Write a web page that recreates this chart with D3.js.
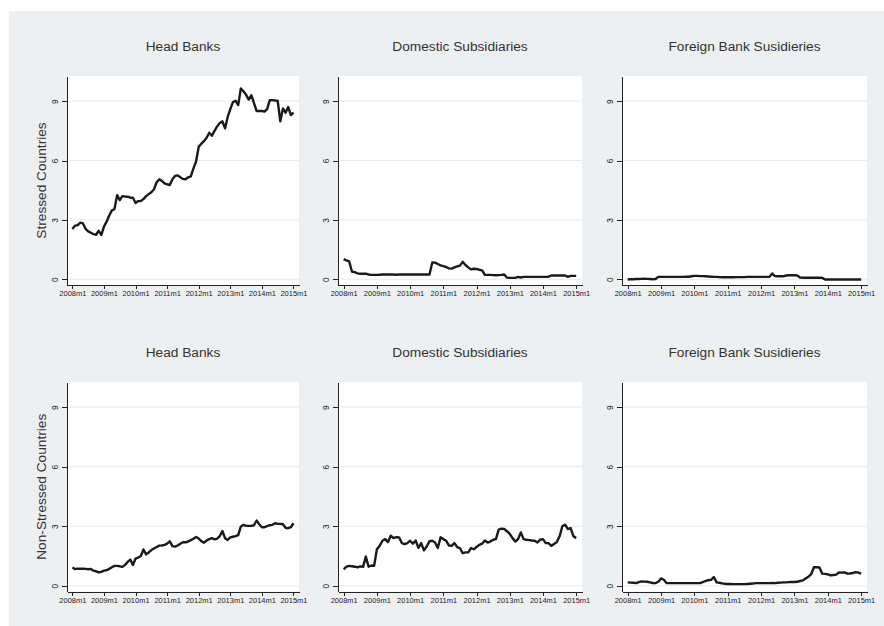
<!DOCTYPE html>
<html>
<head>
<meta charset="utf-8">
<script src="https://cdn.jsdelivr.net/npm/d3@7"></script>
<style>
  body { margin: 0; background: #fff; }
  svg { display: block; font-family: "Liberation Sans", Arial, sans-serif; }
  .grid line { stroke: #e9e9e9; stroke-width: 1; }
  .axis path, .axis line { stroke: #222; stroke-width: 1; shape-rendering: crispEdges; }
  .axis text { fill: #222; font-size: 7.5px; }
  .yaxis text { font-size: 8.3px; }
  .series { fill: none; stroke: #1a1a1a; stroke-width: 2.4; stroke-linejoin: round; }
  .title { fill: #333; font-size: 13.7px; text-anchor: middle; }
</style>
</head>
<body>
<svg id="chart" width="884" height="626"></svg>
<script>
// panel and row labels
const colTitles = ["Head Banks", "Domestic Subsidiaries", "Foreign Bank Susidieries"];
const rowTitles = ["Stressed Countries", "Non-Stressed Countries"];

// x ticks, one per year (monthly data from 2008m1 to 2015m1)
const xTickLabels = ["2008m1", "2009m1", "2010m1", "2011m1", "2012m1", "2013m1", "2014m1", "2015m1"];
const yTicks = [0, 3, 6, 9];

// stressed countries
const headStressed = [2.54, 2.71, 2.73, 2.86, 2.82, 2.55, 2.42, 2.35, 2.28, 2.25, 2.45, 2.24,
  2.66, 2.91, 3.22, 3.48, 3.55, 4.25, 4.0, 4.2, 4.18, 4.17, 4.12, 4.12,
  3.85, 3.95, 3.95, 4.05, 4.2, 4.3, 4.4, 4.55, 4.9, 5.05, 4.97, 4.85,
  4.8, 4.76, 5.05, 5.22, 5.25, 5.15, 5.07, 5.05, 5.15, 5.2, 5.6, 5.95,
  6.7, 6.85, 6.98, 7.15, 7.4, 7.25, 7.5, 7.72, 7.9, 7.98, 7.62, 8.2,
  8.6, 8.95, 9.02, 8.8, 9.64, 9.5, 9.32, 9.08, 9.3, 8.9, 8.5, 8.5,
  8.5, 8.47, 8.6, 9.05, 9.05, 9.03, 9.02, 7.98, 8.63, 8.42, 8.7, 8.3,
  8.42];
const domStressed = [1.02, 0.95, 0.9, 0.38, 0.36, 0.3, 0.28, 0.28, 0.28, 0.24, 0.22, 0.22,
  0.22, 0.23, 0.24, 0.24, 0.24, 0.24, 0.24, 0.23, 0.24, 0.24, 0.24, 0.24,
  0.24, 0.24, 0.24, 0.24, 0.24, 0.24, 0.24, 0.24, 0.85, 0.84, 0.77, 0.7,
  0.66, 0.62, 0.55, 0.54, 0.6, 0.65, 0.69, 0.88, 0.72, 0.6, 0.5, 0.53,
  0.52, 0.48, 0.45, 0.22, 0.22, 0.22, 0.21, 0.2, 0.21, 0.22, 0.24, 0.08,
  0.07, 0.07, 0.07, 0.12, 0.09, 0.12, 0.12, 0.12, 0.12, 0.12, 0.12, 0.12,
  0.12, 0.12, 0.13, 0.19, 0.19, 0.19, 0.19, 0.19, 0.19, 0.12, 0.17, 0.17,
  0.17];
const forStressed = [-0.01, 0.0, 0.0, 0.01, 0.01, 0.02, 0.03, 0.02, 0.01, 0.0, 0.01, 0.12,
  0.12, 0.12, 0.12, 0.12, 0.12, 0.12, 0.12, 0.12, 0.12, 0.13, 0.13, 0.15,
  0.17, 0.17, 0.16, 0.16, 0.15, 0.14, 0.13, 0.12, 0.12, 0.11, 0.1, 0.1,
  0.1, 0.1, 0.1, 0.11, 0.11, 0.11, 0.11, 0.12, 0.12, 0.12, 0.12, 0.12,
  0.12, 0.12, 0.12, 0.13, 0.29, 0.16, 0.15, 0.15, 0.15, 0.19, 0.2, 0.2,
  0.2, 0.19, 0.09, 0.08, 0.08, 0.08, 0.08, 0.08, 0.08, 0.08, 0.07, -0.01,
  -0.01, -0.01, -0.01, -0.01, -0.01, -0.01, -0.01, -0.01, -0.01, -0.01, -0.01, -0.01,
  -0.01];

// non-stressed countries
const headNonStressed = [0.92, 0.84, 0.86, 0.86, 0.86, 0.85, 0.83, 0.85, 0.76, 0.73, 0.68, 0.7,
  0.76, 0.78, 0.85, 0.93, 1.0, 1.0, 0.98, 0.95, 1.05, 1.2, 1.32, 1.05,
  1.37, 1.42, 1.5, 1.83, 1.58, 1.68, 1.8, 1.88, 1.95, 2.02, 2.03, 2.06,
  2.12, 2.24, 2.0, 1.97, 2.03, 2.12, 2.19, 2.19, 2.23, 2.3, 2.37, 2.46,
  2.38, 2.25, 2.17, 2.28, 2.35, 2.4, 2.34, 2.38, 2.5, 2.76, 2.4, 2.31,
  2.44, 2.47, 2.5, 2.55, 2.98, 3.07, 3.02, 3.02, 3.02, 3.05, 3.29, 3.1,
  2.95, 2.95, 3.0, 3.05, 3.07, 3.15, 3.12, 3.12, 3.1, 2.92, 2.9, 2.95,
  3.15];
const domNonStressed = [0.83, 0.96, 1.0, 0.98, 0.96, 0.93, 0.98, 0.95, 1.47, 0.96, 1.02, 1.0,
  1.84, 2.01, 2.27, 2.35, 2.2, 2.52, 2.4, 2.45, 2.44, 2.15, 2.1, 2.15,
  2.27, 2.12, 2.28, 1.91, 2.15, 1.78, 1.98, 2.25, 2.27, 2.18, 1.9, 2.44,
  2.35, 2.27, 2.03, 2.01, 2.15, 1.95, 1.9, 1.64, 1.68, 1.68, 1.9, 1.84,
  1.95, 2.06, 2.12, 2.28, 2.18, 2.23, 2.32, 2.35, 2.83, 2.88, 2.86, 2.75,
  2.62, 2.4, 2.23, 2.35, 2.69, 2.35, 2.32, 2.3, 2.28, 2.27, 2.18, 2.32,
  2.35, 2.15, 2.15, 2.01, 2.1, 2.2, 2.49, 3.0, 3.08, 2.86, 2.91, 2.49,
  2.4];
const forNonStressed = [0.17, 0.16, 0.15, 0.13, 0.18, 0.22, 0.21, 0.2, 0.17, 0.14, 0.13, 0.2,
  0.37, 0.3, 0.13, 0.13, 0.13, 0.13, 0.13, 0.13, 0.13, 0.13, 0.13, 0.13,
  0.13, 0.13, 0.13, 0.18, 0.24, 0.28, 0.3, 0.44, 0.17, 0.15, 0.12, 0.1,
  0.09, 0.09, 0.08, 0.08, 0.08, 0.08, 0.08, 0.09, 0.1, 0.11, 0.13, 0.13,
  0.13, 0.13, 0.13, 0.13, 0.14, 0.13, 0.15, 0.16, 0.17, 0.17, 0.18, 0.19,
  0.19, 0.2, 0.24, 0.27, 0.36, 0.45, 0.58, 0.93, 0.93, 0.92, 0.61, 0.6,
  0.57, 0.52, 0.54, 0.56, 0.67, 0.66, 0.67, 0.61, 0.62, 0.64, 0.69, 0.66,
  0.61];

const panelSeries = [
  [headStressed, domStressed, forStressed],
  [headNonStressed, domNonStressed, forNonStressed]
];

// layout of the 3x2 grid (plot region edges in pixels)
const colBounds = [[67, 299], [338, 582], [622, 867]];
const rowBounds = [[76, 285], [382, 591.5]];
const titleY = [46, 352];

const svg = d3.select("#chart");

// stata-style light grey graph region
svg.append("rect")
  .attr("x", 9).attr("y", 11)
  .attr("width", 884 - 9).attr("height", 626 - 11)
  .attr("fill", "#eeeff1");

rowBounds.forEach((rb, r) => {
  colBounds.forEach((cb, c) => {
    drawPanel(panelSeries[r][c], cb, rb, colTitles[c], titleY[r], c == 0 ? rowTitles[r] : null);
  });
});

function drawPanel(values, cb, rb, title, ty, yTitle)
{
  let x = d3.scaleLinear().domain([-2.05, 86.1]).range(cb);
  let y = d3.scaleLinear().domain([-0.29, 10.27]).range([rb[1], rb[0]]);

  let g = svg.append("g");

  g.append("rect")
    .attr("x", cb[0]).attr("y", rb[0])
    .attr("width", cb[1] - cb[0]).attr("height", rb[1] - rb[0])
    .attr("fill", "#fff");

  //horizontal gridlines
  g.append("g")
    .attr("class", "grid")
    .selectAll("line")
    .data(yTicks)
    .enter()
    .append("line")
    .attr("x1", cb[0]).attr("x2", cb[1])
    .attr("y1", d => y(d)).attr("y2", d => y(d));

  let line = d3.line()
    .x((d, i) => x(i))
    .y(d => y(d));

  g.append("path")
    .attr("class", "series")
    .attr("d", line(values));

  let xAxis = d3.axisBottom(x)
    .tickValues(xTickLabels.map((d, i) => i * 12))
    .tickFormat((d, i) => xTickLabels[i])
    .tickSize(4)
    .tickSizeOuter(0);

  g.append("g")
    .attr("class", "axis")
    .attr("transform", "translate(0," + rb[1] + ")")
    .call(xAxis)
    .selectAll("text")
    .attr("y", 6);

  let yAxis = d3.axisLeft(y)
    .tickValues(yTicks)
    .tickSize(5)
    .tickSizeOuter(0);

  g.append("g")
    .attr("class", "axis yaxis")
    .attr("transform", "translate(" + cb[0] + ",0)")
    .call(yAxis)
    .selectAll("text")
    .attr("transform", "rotate(-90)")
    .attr("x", 0)
    .attr("y", -9)
    .attr("dy", 0)
    .attr("text-anchor", "middle");

  g.append("text")
    .attr("class", "title")
    .attr("x", (cb[0] + cb[1]) / 2)
    .attr("y", ty + 5)
    .text(title);

  if(yTitle)
  {
    let cy = (rb[0] + rb[1]) / 2;
    g.append("text")
      .attr("class", "title")
      .attr("transform", "translate(46," + cy + ") rotate(-90)")
      .text(yTitle);
  }
}
</script>
</body>
</html>
